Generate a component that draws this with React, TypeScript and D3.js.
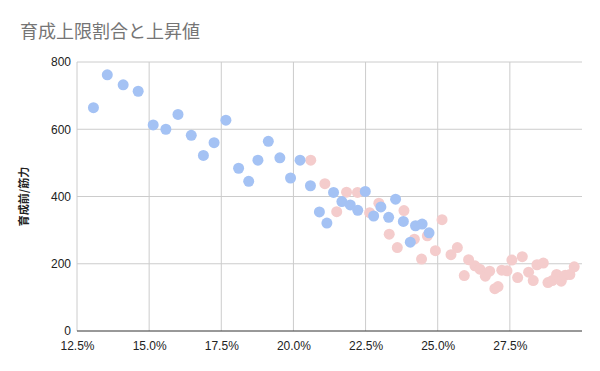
import { useRef, useEffect } from "react";
import * as d3 from "d3";

// 育成上限割合 (%) / 育成前筋力
const blueX = [13.07, 13.55, 14.1, 14.62, 15.14, 15.58, 16.0, 16.46, 16.88, 17.25, 17.66, 18.1, 18.45, 18.77, 19.13, 19.53, 19.9, 20.23, 20.59, 20.9, 21.16, 21.39, 21.68, 21.97, 22.23, 22.49, 22.78, 23.03, 23.3, 23.54, 23.81, 24.05, 24.23, 24.46, 24.7];
const blueY = [664, 762, 732, 713, 613, 600, 644, 582, 522, 560, 627, 484, 445, 508, 564, 515, 455, 508, 432, 354, 321, 412, 385, 375, 359, 415, 342, 369, 338, 392, 326, 264, 313, 318, 292];

const pinkX = [20.6, 21.09, 21.5, 21.84, 22.22, 22.64, 22.96, 23.32, 23.6, 23.83, 24.19, 24.44, 24.64, 24.92, 25.15, 25.46, 25.68, 25.92, 26.07, 26.29, 26.46, 26.65, 26.8, 26.98, 27.09, 27.22, 27.4, 27.57, 27.77, 27.93, 28.15, 28.31, 28.44, 28.66, 28.82, 28.97, 29.12, 29.28, 29.42, 29.58, 29.73];
const pinkY = [508, 438, 355, 413, 412, 352, 380, 288, 248, 358, 273, 214, 283, 239, 331, 227, 248, 165, 212, 194, 184, 163, 178, 126, 132, 181, 179, 211, 159, 221, 175, 150, 197, 202, 144, 150, 168, 148, 166, 168, 191];

const xTicks = [12.5, 15, 17.5, 20, 22.5, 25, 27.5];
const yTicks = [0, 200, 400, 600, 800];

const title = "育成上限割合と上昇値";
const yTitle = "育成前/筋力";

export default function App() {
  const ref = useRef(null);

  useEffect(() => {
    const svg = d3.select(ref.current);
    svg.selectAll("*").remove();

    const width = 600;
    const height = 371;
    const margin = { top: 62, right: 18, bottom: 40, left: 77 };
    const font = "'Liberation Sans', Arial, sans-serif";

    const x = d3.scaleLinear().domain([12.5, 30]).range([margin.left, width - margin.right]);
    const y = d3.scaleLinear().domain([0, 800]).range([height - margin.bottom, margin.top]);

    svg.attr("width", width).attr("height", height);
    svg.append("rect").attr("width", width).attr("height", height).attr("fill", "#fff");

    svg
      .append("text")
      .attr("x", 20)
      .attr("y", 38)
      .attr("fill", "#757575")
      .attr("font-size", 18)
      .attr("font-family", "'Noto Sans CJK JP', sans-serif")
      .text(title);

    // grid
    const grid = svg.append("g");
    grid
      .selectAll("line.v")
      .data(xTicks)
      .join("line")
      .attr("x1", (d) => x(d))
      .attr("x2", (d) => x(d))
      .attr("y1", y(800))
      .attr("y2", y(0))
      .attr("stroke", "#cccccc");
    grid
      .selectAll("line.h")
      .data(yTicks.filter((d) => d > 0))
      .join("line")
      .attr("x1", x(12.5))
      .attr("x2", x(30))
      .attr("y1", (d) => y(d))
      .attr("y2", (d) => y(d))
      .attr("stroke", "#cccccc");

    // axes
    const xAxis = svg
      .append("g")
      .attr("transform", `translate(0,${y(0)})`)
      .call(
        d3
          .axisBottom(x)
          .tickValues(xTicks)
          .tickSize(0)
          .tickPadding(10)
          .tickFormat((d) => d3.format(".1f")(d) + "%")
      );
    xAxis.select(".domain").attr("stroke", "#333333").attr("d", `M${x(12.5)},0H${x(30)}`);
    xAxis.selectAll("text").attr("font-size", 12).attr("font-family", font).attr("fill", "#222");

    const yAxis = svg
      .append("g")
      .attr("transform", `translate(${margin.left},0)`)
      .call(d3.axisLeft(y).tickValues(yTicks).tickSize(0).tickPadding(6));
    yAxis.select(".domain").remove();
    yAxis.selectAll("text").attr("font-size", 12).attr("font-family", font).attr("fill", "#222");

    svg
      .append("text")
      .attr("transform", `translate(28,${(y(0) + y(800)) / 2}) rotate(-90)`)
      .attr("text-anchor", "middle")
      .attr("font-size", 11)
      .attr("font-weight", "bold")
      .attr("font-family", "'Noto Sans CJK JP', sans-serif")
      .attr("fill", "#222")
      .text(yTitle);

    // points
    svg
      .append("g")
      .selectAll("circle")
      .data(pinkX.map((v, i) => [v, pinkY[i]]))
      .join("circle")
      .attr("cx", (d) => x(d[0]))
      .attr("cy", (d) => y(d[1]))
      .attr("r", 5.5)
      .attr("fill", "#f4cccc");

    svg
      .append("g")
      .selectAll("circle")
      .data(blueX.map((v, i) => [v, blueY[i]]))
      .join("circle")
      .attr("cx", (d) => x(d[0]))
      .attr("cy", (d) => y(d[1]))
      .attr("r", 5.5)
      .attr("fill", "#a4c2f4");
  }, []);

  return <svg ref={ref} style={{ position: "absolute", left: 0, top: 0 }}></svg>;
}
